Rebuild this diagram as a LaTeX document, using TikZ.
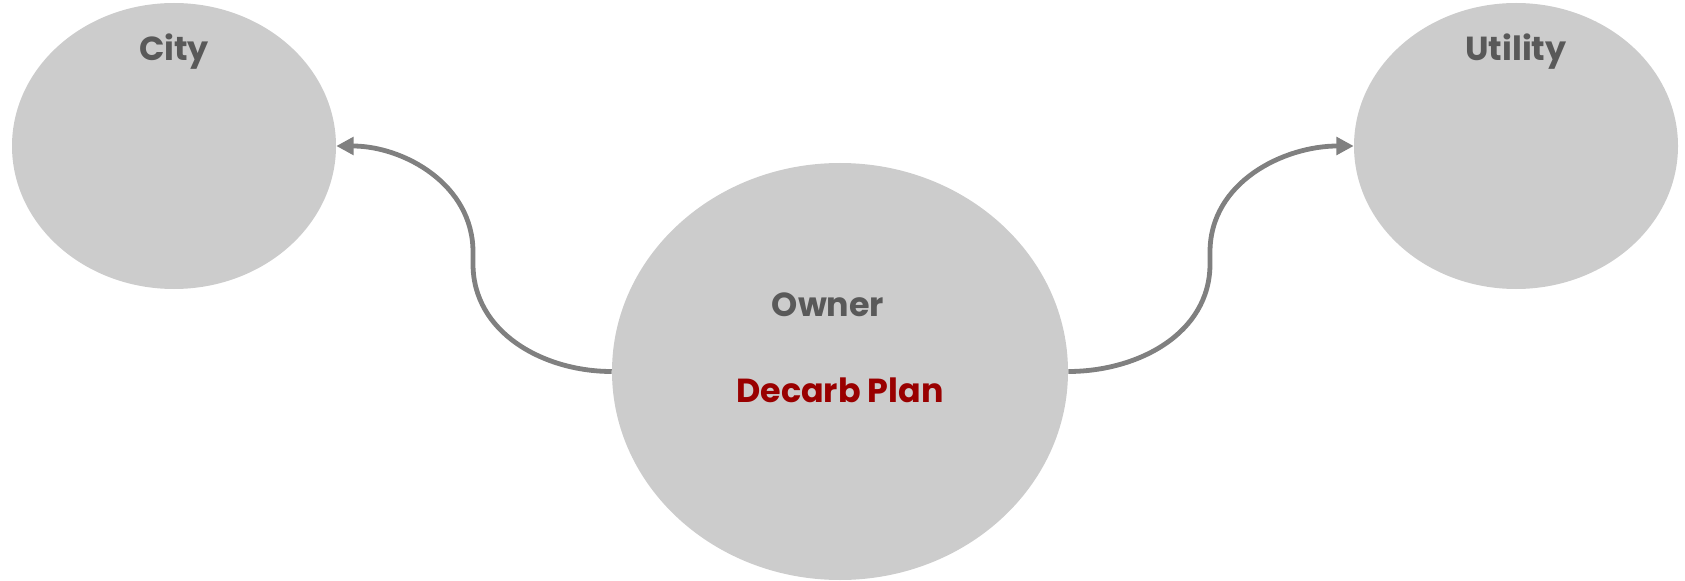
\documentclass[tikz,border=0pt]{standalone}
\usepackage{fontspec}
\setmainfont{Poppins}
\usetikzlibrary{shapes.geometric,arrows.meta}
\definecolor{bubble}{HTML}{CCCCCC}
\definecolor{wire}{HTML}{808080}
\definecolor{label}{HTML}{595959}
\definecolor{plan}{HTML}{990000}
\tikzset{
  bubble/.style={ellipse,fill=bubble,draw=none,inner sep=0pt},
  tag/.style={font=\fontsize{25}{30}\selectfont\bfseries,text=label,inner sep=0pt},
  link/.style={draw=wire,line width=3.6pt,-{Triangle[length=13pt,width=13pt]}},
}
\begin{document}
\begin{tikzpicture}[x=0.75pt,y=-0.75pt]
  \useasboundingbox (0,0) rectangle (1685,581);
  % three actors
  \node[bubble,minimum width=243pt,minimum height=214.5pt] (city) at (174,146) {};
  \node[bubble,minimum width=243pt,minimum height=214.5pt] (utility) at (1516,146) {};
  \node[bubble,minimum width=342pt,minimum height=312.75pt] (owner) at (840,371.5) {};
  % labels
  \node[tag] (citytxt) at (174,52) {City};
  \node[tag] (utiltxt) at (1516,52) {Utility};
  \node[tag] (ownertxt) at (828,305) {Owner};
  \node[tag,text=plan] (plantxt) at (840,390) {Decarb Plan};
  % connectors: S-bends with a short straight stretch in the middle
  \coordinate (llow) at (473,264);
  \coordinate (lhigh) at (473,252);
  \coordinate (rlow) at (1210,264);
  \coordinate (rhigh) at (1210,252);
  \draw[link] (owner.west) to[out=180,in=-90] (llow) -- (lhigh) to[out=90,in=0] (city.east);
  \draw[link] (owner.east) to[out=0,in=-90] (rlow) -- (rhigh) to[out=90,in=180] (utility.west);
\end{tikzpicture}
\end{document}
